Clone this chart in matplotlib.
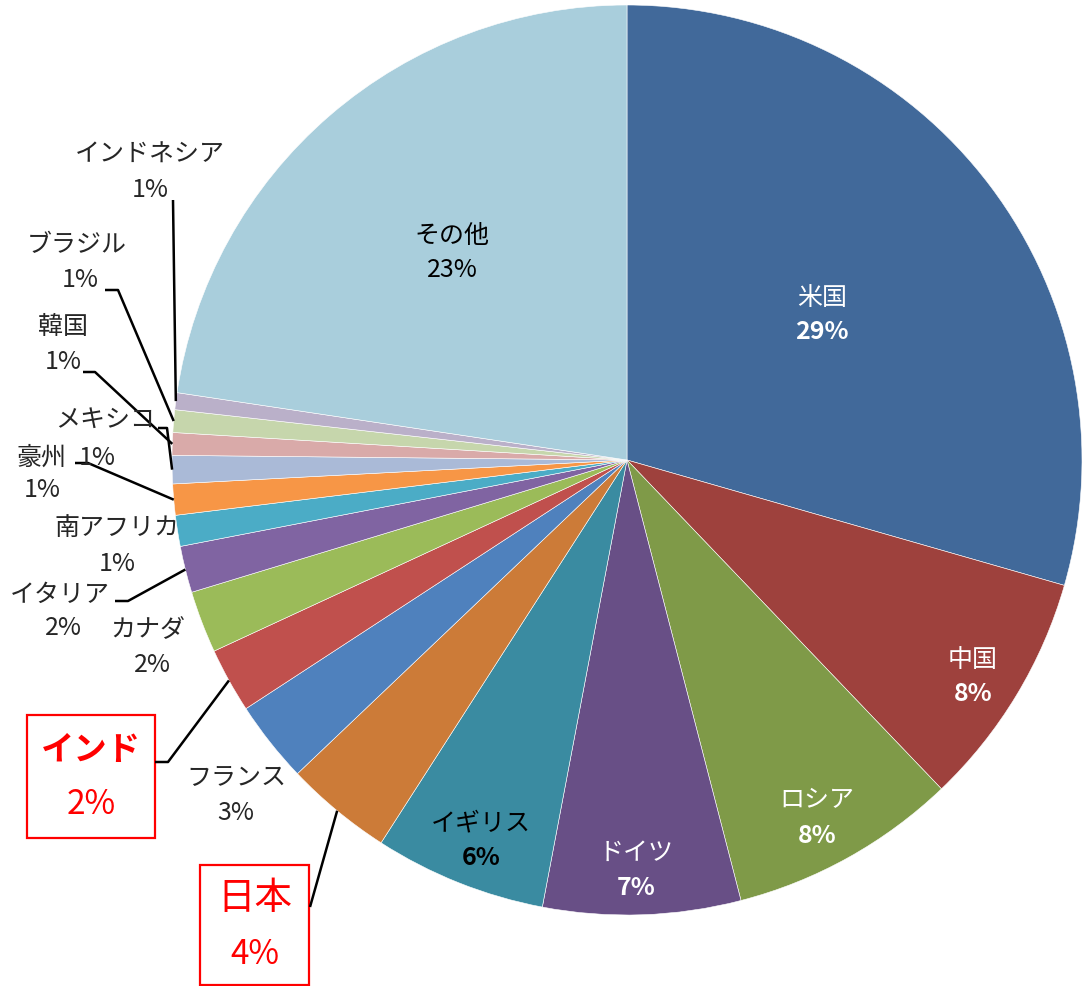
import matplotlib
matplotlib.use("Agg")
import matplotlib.pyplot as plt
from matplotlib.patches import Rectangle
import numpy as np

plt.rcParams["font.family"] = ["Noto Sans CJK JP", "DejaVu Sans"]

# slices, clockwise from 12 o'clock
countries = ["米国", "中国", "ロシア", "ドイツ", "イギリス", "日本", "フランス", "インド",
             "カナダ", "イタリア", "南アフリカ", "豪州", "メキシコ", "韓国", "ブラジル",
             "インドネシア", "その他"]
shares = [29.4, 8.4, 8.1, 7.0, 6.1, 3.8, 2.9, 2.3, 2.2, 1.65, 1.1, 1.1, 1.0, 0.8, 0.8, 0.6, 22.6]
pct_labels = ["29%", "8%", "8%", "7%", "6%", "4%", "3%", "2%", "2%", "2%",
              "1%", "1%", "1%", "1%", "1%", "1%", "23%"]
colors = ["#41699A", "#9E413D", "#7F9A48", "#684F86", "#3A8BA1", "#CC7B38", "#4F81BD",
          "#C0504D", "#9BBB59", "#8064A2", "#4BACC6", "#F79646", "#AABAD7", "#D9AAA9",
          "#C6D6AC", "#BAB0C9", "#A9CEDC"]

W, H = 1086, 986
CX, CY, R = 627, 460, 455

fig = plt.figure(figsize=(W / 100, H / 100), dpi=100)
ax = fig.add_axes([0, 0, 1, 1])

# y axis runs downward (pixel layout), so screen-clockwise = counterclock in data
wedges, _ = ax.pie(shares, colors=colors, startangle=270, counterclock=True,
                   center=(CX, CY), radius=R,
                   wedgeprops=dict(edgecolor="white", linewidth=0.4))
ax.set_xlim(0, W)
ax.set_ylim(H, 0)
ax.set_aspect("equal")
ax.axis("off")

# label layout: name position, pct position, colour, pct bold
layout = {
    "米国": ((822, 298), (822, 332), "white", True),
    "中国": ((973, 660), (973, 694), "white", True),
    "ロシア": ((817, 800), (817, 836), "white", True),
    "ドイツ": ((636, 853), (636, 888), "white", True),
    "イギリス": ((481, 823), (481, 858), "black", True),
    "その他": ((452, 236), (452, 270), "black", False),
    "フランス": ((236, 778), (236, 813), "#262626", False),
    "カナダ": ((148, 630), (152, 665), "#262626", False),
    "イタリア": ((60, 595), (63, 628), "#262626", False),
    "南アフリカ": ((117, 528), (117, 564), "#262626", False),
    "豪州": ((42, 458), (42, 490), "#262626", False),
    "メキシコ": ((105, 420), (97, 458), "#262626", False),
    "韓国": ((63, 327), (63, 362), "#262626", False),
    "ブラジル": ((77, 245), (80, 280), "#262626", False),
    "インドネシア": ((150, 155), (150, 190), "#262626", False),
}

for name, pct in zip(countries, pct_labels):
    if name not in layout:
        continue
    (nx, ny), (px, py), col, bold = layout[name]
    ax.text(nx, ny, name, color=col, fontsize=18, ha="center", va="center")
    ax.text(px, py, pct, color=col, fontsize=18, ha="center", va="center",
            fontweight="bold" if bold else "normal")

# highlighted labels in red boxes
boxes = {
    "インド": ((27, 715, 128, 123), 750, 805, "bold", 24),
    "日本": ((200, 865, 109, 120), 898, 955, "normal", 27),
}
for name, ((bx, by, bw, bh), ny, py, wt, fs) in boxes.items():
    i = countries.index(name)
    ax.add_patch(Rectangle((bx, by), bw, bh, fill=False, edgecolor="#FF0000", linewidth=1.6))
    ax.text(bx + bw / 2, ny, name, color="#FF0000", fontsize=fs, fontweight=wt,
            ha="center", va="center")
    ax.text(bx + bw / 2, py, pct_labels[i], color="#FF0000", fontsize=24,
            ha="center", va="center")

# leader lines: elbow points, then to the wedge edge at its mid angle
leaders = {
    "インドネシア": [(173, 200)],
    "ブラジル": [(105, 290), (118, 290)],
    "韓国": [(83, 372), (95, 372)],
    "メキシコ": [(158, 428), (167, 428)],
    "豪州": [(75, 463), (88, 463)],
    "イタリア": [(115, 601), (128, 601)],
    "インド": [(155, 762), (168, 762)],
    "日本": [(310, 907)],
}
for name, pts in leaders.items():
    w = wedges[countries.index(name)]
    mid = np.deg2rad((w.theta1 + w.theta2) / 2)
    ex, ey = CX + R * np.cos(mid), CY + R * np.sin(mid)
    xs = [p[0] for p in pts] + [ex]
    ys = [p[1] for p in pts] + [ey]
    ax.plot(xs, ys, color="black", linewidth=1.8, solid_capstyle="butt")

fig.savefig("out.png", dpi=100, facecolor="white")
